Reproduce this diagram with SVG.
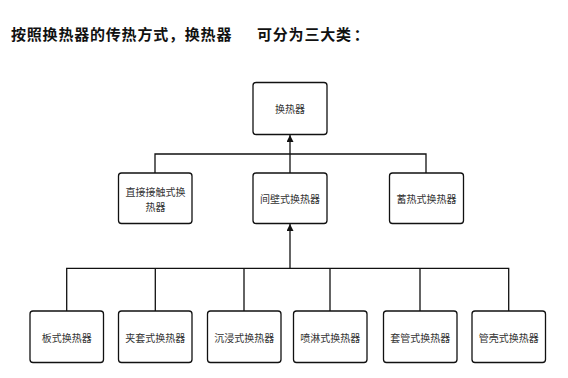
<svg xmlns="http://www.w3.org/2000/svg" width="568" height="378" viewBox="0 0 568 378">
<defs>
<marker id="arr" viewBox="0 0 10 10" refX="10" refY="5" markerWidth="7" markerHeight="7" markerUnits="userSpaceOnUse" orient="auto">
<path d="M0,0 L10,5 L0,10 z" fill="#111"/>
</marker>
<style>
.box{fill:#fff;stroke:#111;stroke-width:1.3}
.lbl{font-family:"Noto Sans CJK SC","Liberation Sans",sans-serif;font-size:10px;fill:#333;text-anchor:middle;dominant-baseline:central}
.ttl{font-family:"Noto Sans CJK SC","Liberation Sans",sans-serif;font-size:15px;font-weight:bold;fill:#111;letter-spacing:0.8px}
.ln{fill:none;stroke:#111;stroke-width:1.3}
</style>
</defs>
<rect width="568" height="378" fill="#fff"/>
<text class="ttl" x="11" y="40">按照换热器的传热方式，换热器</text>
<text class="ttl" x="257" y="40">可分为三大类<tspan dx="2">：</tspan></text>
<g id="connectors">
<path class="ln" d="M155,173 V154 H426 V173"/>
<path class="ln" d="M290,173 V135" marker-end="url(#arr)"/>
<path class="ln" d="M66.7,311 V268.3 H508.7 V311 M155.3,311 V268.3 M244,311 V268.3 M330,311 V268.3 M420,311 V268.3"/>
<path class="ln" d="M290,268.3 V224" marker-end="url(#arr)"/>
</g>
<g id="n-root"><rect class="box" x="253" y="82.5" width="74" height="52" rx="3"/><text class="lbl" x="290" y="108.5">换热器</text></g>
<g id="n-direct"><rect class="box" x="118.5" y="173" width="73.5" height="50.5" rx="3"/><text class="lbl" x="155.5" y="191.5">直接接触式换</text><text class="lbl" x="155.5" y="206">热器</text></g>
<g id="n-wall"><rect class="box" x="253" y="173" width="74" height="50.5" rx="3"/><text class="lbl" x="290" y="198">间壁式换热器</text></g>
<g id="n-regen"><rect class="box" x="389.5" y="173" width="74" height="50.5" rx="3"/><text class="lbl" x="426.5" y="198">蓄热式换热器</text></g>
<g id="n-plate"><rect class="box" x="30" y="311" width="73.5" height="51.5" rx="3"/><text class="lbl" x="66.7" y="337">板式换热器</text></g>
<g id="n-jacket"><rect class="box" x="118.5" y="311" width="73.5" height="51.5" rx="3"/><text class="lbl" x="155.3" y="337">夹套式换热器</text></g>
<g id="n-immersion"><rect class="box" x="207.5" y="311" width="73.5" height="51.5" rx="3"/><text class="lbl" x="244.2" y="337">沉浸式换热器</text></g>
<g id="n-spray"><rect class="box" x="293.5" y="311" width="73.5" height="51.5" rx="3"/><text class="lbl" x="330.2" y="337">喷淋式换热器</text></g>
<g id="n-double"><rect class="box" x="383.5" y="311" width="73.5" height="51.5" rx="3"/><text class="lbl" x="420.2" y="337">套管式换热器</text></g>
<g id="n-shell"><rect class="box" x="472" y="311" width="73.5" height="51.5" rx="3"/><text class="lbl" x="508.7" y="337">管壳式换热器</text></g>
</svg>
